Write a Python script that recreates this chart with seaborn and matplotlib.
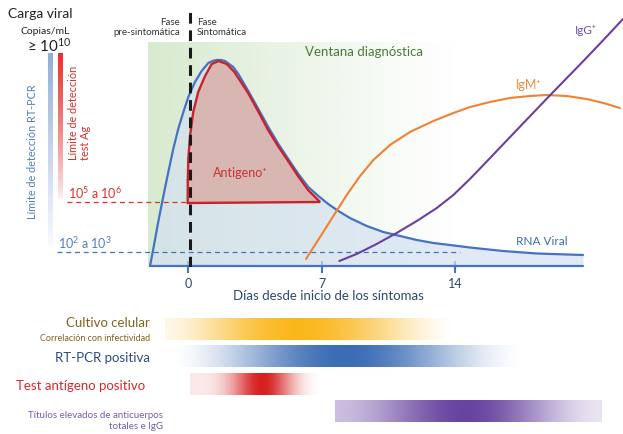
import numpy as np
import pandas as pd
import matplotlib
matplotlib.use('Agg')
import matplotlib.pyplot as plt
import seaborn as sns
from matplotlib.colors import to_rgb

# Curves, x in days since symptom onset, y in relative viral load / titre units
rna_days = [-2.02, -1.85, -1.59, -1.32, -1.06, -0.80, -0.54, -0.27, -0.01, 0.34,
            0.69, 1.04, 1.26, 1.48, 1.70, 1.92, 2.35, 2.62, 3.14, 3.67, 4.19,
            4.72, 5.24, 5.77, 6.29, 6.82, 7.34, 7.87, 8.48, 9.36, 10.23, 11.11,
            11.99, 12.86, 13.73, 14.78, 16.52, 18.30, 20.72]
rna_load = [0, 17, 44, 70, 94, 117, 137, 154, 169, 184,
            195, 203, 205, 206, 206, 205, 199, 192, 175, 157, 139,
            122, 107, 92, 79, 70, 62, 55, 48, 40, 34, 30,
            26, 23, 21, 18.5, 15, 12.5, 11]

ag_days = [-0.04, -0.04, -0.01, 0.08, 0.25, 0.51, 0.87, 1.22, 1.57, 2.01, 2.41,
           3.13, 3.65, 4.18, 4.70, 5.23, 5.75, 6.28, 6.91]
ag_load = [63, 84, 107, 130, 154, 174, 190, 202, 205, 202, 194,
           173, 155, 136, 120, 105, 90, 76, 64]

igm_days = [6.17, 6.91, 7.61, 8.31, 9.01, 9.71, 10.58, 11.63, 12.86, 13.91, 14.79,
            15.83, 16.88, 17.93, 18.81, 19.86, 20.91, 21.79, 22.66]
igm_level = [7, 29, 50, 71, 90, 106, 121, 134, 145, 153, 159,
             164, 168, 170, 171, 170, 167, 163, 158]

igg_days = [7.92, 8.83, 9.88, 10.93, 11.99, 13.04, 13.91, 14.78, 15.84, 17.24,
            18.95, 20.74, 21.79, 22.82]
igg_level = [5, 12, 22, 33, 45, 58, 71, 87, 108, 136, 170, 205, 226, 247]

# Detection thresholds
pcr_limit = 14
ag_limit = 64

x_ticks = [0, 7, 14]

# Test windows (bottom bars): start, peak, end in days
bar_labels = ['Cultivo celular', 'RT-PCR positiva', 'Test antígeno positivo',
              'Títulos elevados de anticuerpos\ntotales e IgG']
bar_start = [-1.26, -1.16, 0.10, 7.70]
bar_peak = [5.70, 8.20, 3.90, 14.60]
bar_end = [13.90, 17.80, 7.70, 21.70]
bar_colors = ['#FBB71C', '#3A6CB4', '#D81E1E', '#6743A0']

# ---------------------------------------------------------------
sns.set_theme(style='white')
plt.rcParams['font.family'] = ['Lato', 'DejaVu Sans']
plt.rcParams['mathtext.fontset'] = 'custom'
plt.rcParams['mathtext.rm'] = 'Lato'

fig = plt.figure(figsize=(6.23, 4.35), dpi=100)
H = 435.0
XL = (-9.90, 22.82)

ax = fig.add_axes([0, (H - 268) / H, 1, 268 / H])
axb = fig.add_axes([0, (H - 425.5) / H, 1, 109 / H])


def gradient(a, x0, x1, y0, y1, color, alpha, vertical=False, n=300):
    rgba = np.zeros((n, 1, 4)) if vertical else np.zeros((1, n, 4))
    rgba[..., :3] = to_rgb(color)
    rgba[..., 3] = alpha.reshape(rgba.shape[:2])
    a.imshow(rgba, extent=(x0, x1, y0, y1), aspect='auto',
             interpolation='bilinear', origin='lower', zorder=0)


def bump(xs, start, peak, end, left, right, sharp=1.0):
    t = np.where(xs < peak, (xs - start) / (peak - start), (end - xs) / (end - peak))
    t = np.clip(t, 0, 1)
    s = (3 * t ** 2 - 2 * t ** 3) ** sharp
    edge = np.where(xs < peak, left, right)
    return edge + (1 - edge) * s


# Diagnostic window background
xs = np.linspace(0, 1, 300)
gradient(ax, -2.13, 14.0, 0, 223, '#C8E2BC', 0.72 * (1 - xs) ** 1.1)

# Viral RNA area
curves = pd.DataFrame({'day': rna_days, 'load': rna_load})
ax.fill_between(rna_days, 0, rna_load, color='#D4E1F1', alpha=0.7, lw=0, zorder=1)
ax.plot([rna_days[0], rna_days[-1]], [0, 0], color='#4472C4', lw=1.6, zorder=4,
        clip_on=False)
sns.lineplot(data=curves, x='day', y='load', ax=ax, color='#4472C4', lw=1.6,
             sort=False, zorder=4)

# Antigen area
ax.fill(ag_days, ag_load, facecolor='#D8B7B3', edgecolor='#C8232B', lw=1.7,
        zorder=5)

# Antibodies
sns.lineplot(x=igm_days, y=igm_level, ax=ax, color='#F08232', lw=1.5, zorder=6)
sns.lineplot(x=igg_days, y=igg_level, ax=ax, color='#6B3FA0', lw=1.5, zorder=6)

# Thresholds
ax.plot([-6.9, 14.26], [pcr_limit] * 2, color='#4472C4', lw=0.9, dashes=(4, 3),
        zorder=3)
ax.plot([-6.38, 0.08], [ag_limit] * 2, color='#E0302A', lw=0.9, dashes=(4, 3),
        zorder=3)
ax.plot([0.08, 0.08], [-1, 259], color='#1A1A1A', lw=2.2, dashes=(3.5, 2.2),
        zorder=7)

# Left gradient scales
ys = np.linspace(0, 1, 300)
gradient(ax, -7.38, -7.12, 19, 212, '#8EA9D8', 0.05 + 0.9 * ys, vertical=True)
gradient(ax, -6.85, -6.60, 67, 212, '#E8302A', 0.05 + 0.95 * ys ** 0.8, vertical=True)

# Texts, top panel
ax.text(-9.48, 253, 'Carga viral', fontsize=10, color='#222222', va='center')
ax.text(-6.22, 235, 'Copias/mL', fontsize=7.5, color='#222222', va='center',
        ha='right')
ax.text(-6.12, 221, r'≥ $\mathregular{10^{10}}$', fontsize=11, color='#222222',
        va='center', ha='right')
ax.text(-8.17, 115, 'Límite de detección RT-PCR', fontsize=7.8, color='#4F7EC4',
        rotation=90, ha='center', va='center')
ax.text(-5.72, 107, 'Límite de detección\ntest Ag', fontsize=7.8, color='#D9302C',
        rotation=90, ha='center', va='bottom', multialignment='left',
        linespacing=1.15)
ax.text(-6.33, 74, r'$\mathregular{10^5}$ a $\mathregular{10^6}$', fontsize=9,
        color='#D9302C', va='center')
ax.text(-6.85, 24, r'$\mathregular{10^2}$ a $\mathregular{10^3}$', fontsize=9,
        color='#4F7EC4', va='center')
ax.text(-0.45, 239.5, 'Fase\npre-sintomática', fontsize=7, color='#333333',
        ha='right', va='center', multialignment='right', linespacing=1.15)
ax.text(0.45, 239.5, 'Fase\nSintomática', fontsize=7, color='#333333',
        ha='left', va='center', linespacing=1.15)
ax.text(6.12, 215, 'Ventana diagnóstica', fontsize=9.5, color='#4C7A3C', va='center')
ax.text(2.70, 94, 'Antigeno⁺', fontsize=9, color='#C8322F',
        ha='center', va='center', zorder=8)
ax.text(17.88, 182, 'IgM⁺', fontsize=9, color='#F08A3C',
        ha='center', va='center')
ax.text(20.88, 237, 'IgG⁺', fontsize=8.5, color='#6E50A8',
        ha='center', va='center')
ax.text(18.57, 25, 'RNA Viral', fontsize=8.5, color='#3A6BB5', ha='center',
        va='center')

ax.set_xlim(*XL)
ax.set_ylim(-1, 267)
ax.set_xticks(x_ticks)
ax.set_xticklabels([str(t) for t in x_ticks])
ax.set_yticks([])
ax.tick_params(axis='x', direction='inout', length=8, width=1.5, colors='#4472C4',
               labelcolor='#2D4870', labelsize=9, pad=3, bottom=True)
ax.set_xlabel('Días desde inicio de los síntomas', fontsize=9.5, color='#2D4870')
ax.xaxis.set_label_coords(328 / 623, -(290 - 268) / 268)
ax.set_ylabel('')
for s in ax.spines.values():
    s.set_visible(False)

# Bottom bars
for i, (lab, x0, xp, x1, c) in enumerate(zip(bar_labels, bar_start, bar_peak,
                                             bar_end, bar_colors)):
    xx = np.linspace(x0, x1, 400)
    left = [0.1, 0.0, 0.1, 0.35][i]
    right = [0.0, 0.0, 0.0, 0.15][i]
    sharp = [0.8, 1.0, 2.2, 1.0][i]
    gradient(axb, x0, x1, i + 0.4, i - 0.4, c,
             bump(xx, x0, xp, x1, left, right, sharp), n=400)

axb.text(-2.02, -0.26, 'Cultivo celular', fontsize=9.5, color='#7F6321',
         ha='right', va='center')
axb.text(-2.02, 0.30, 'Correlación con infectividad', fontsize=6.5,
         color='#7F6321', ha='right', va='center')
axb.text(-2.02, 1.04, 'RT-PCR positiva', fontsize=9.5, color='#2E4B7E',
         ha='right', va='center')
axb.text(-2.28, 2.04, 'Test antígeno positivo', fontsize=9.5, color='#D62A2A',
         ha='right', va='center')
axb.text(-1.34, 3.33, bar_labels[3], fontsize=7, color='#7A5BA8', ha='right',
         va='center', multialignment='right', linespacing=1.35)
axb.set_xlim(*XL)
axb.set_ylim(3.5, -0.5)
axb.axis('off')

fig.savefig('out.png', dpi=100)
